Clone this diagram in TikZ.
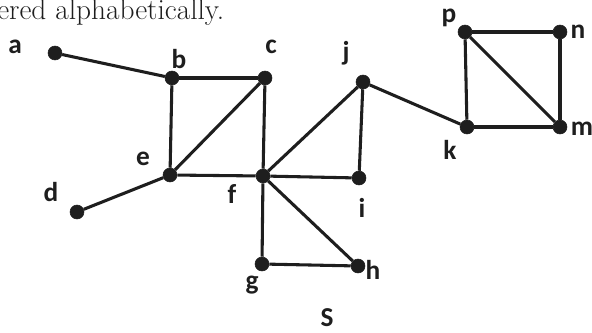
\documentclass[tikz,border=0pt]{standalone}
\usepackage{fontspec}
\setsansfont{Carlito}
\usepackage{tikz}
\usetikzlibrary{positioning, calc}
\definecolor{tinta}{HTML}{1E1E1E}
\tikzset{
  vertice/.style={circle, fill=tinta, draw=tinta, inner sep=0pt, minimum size=10.5pt},
  etiq/.style={font=\fontsize{20.5}{20.5}\selectfont\sffamily\bfseries, text=tinta, inner sep=0pt},
  arista/.style={line width=2.3pt, color=tinta},
  titulo/.style={font=\fontsize{22}{22}\selectfont, text=tinta, inner sep=0pt, anchor=base west}
}
\begin{document}
\begin{tikzpicture}[x=0.75pt, y=-0.75pt]
  \useasboundingbox (0,0) rectangle (592,332);
  \node (texto) [titulo] at (-3,19) {ered alphabetically.};
  % vertices
  \node (a) [vertice] at (55,53) {};
  \node (b) [vertice] at (172,78) {};
  \node (c) [vertice] at (265,78) {};
  \node (d) [vertice] at (77,212) {};
  \node (e) [vertice] at (170,175) {};
  \node (f) [vertice] at (263,176) {};
  \node (g) [vertice] at (262,264) {};
  \node (h) [vertice] at (358,266) {};
  \node (i) [vertice] at (359,178) {};
  \node (j) [vertice] at (363,82) {};
  \node (k) [vertice] at (467,127) {};
  \node (p) [vertice] at (465,32) {};
  \node (n) [vertice] at (560,32) {};
  \node (m) [vertice] at (560,127) {};
  % etiquetas
  \node (la) [etiq] at (15,47) {a};
  \node (lb) [etiq] at (179,59) {b};
  \node (lc) [etiq] at (271,47) {c};
  \node (ld) [etiq] at (51,192) {d};
  \node (le) [etiq] at (143,159) {e};
  \node (lf) [etiq] at (232,194) {f};
  \node (lg) [etiq] at (252,285) {g};
  \node (lh) [etiq] at (373,270) {h};
  \node (li) [etiq] at (362,208) {i};
  \node (lj) [etiq] at (346,53) {j};
  \node (lk) [etiq] at (450,150) {k};
  \node (lp) [etiq] at (449,18) {p};
  \node (ln) [etiq] at (578,32) {n};
  \node (lm) [etiq] at (582,129) {m};
  \node (ls) [etiq] at (327,318) {S};
  % aristas
  \draw [arista] (a) -- (b);
  \draw [arista] (b) -- (c);
  \draw [arista] (b) -- (e);
  \draw [arista] (c) -- (e);
  \draw [arista] (c) -- (f);
  \draw [arista] (d) -- (e);
  \draw [arista] (e) -- (f);
  \draw [arista] (f) -- (j);
  \draw [arista] (f) -- (i);
  \draw [arista] (i) -- (j);
  \draw [arista] (f) -- (g);
  \draw [arista] (f) -- (h);
  \draw [arista] (g) -- (h);
  \draw [arista] (j) -- (k);
  \draw [arista] (k) -- (p);
  \draw [arista] (p) -- (n);
  \draw [arista] (n) -- (m);
  \draw [arista] (k) -- (m);
  \draw [arista] (p) -- (m);
\end{tikzpicture}
\end{document}
